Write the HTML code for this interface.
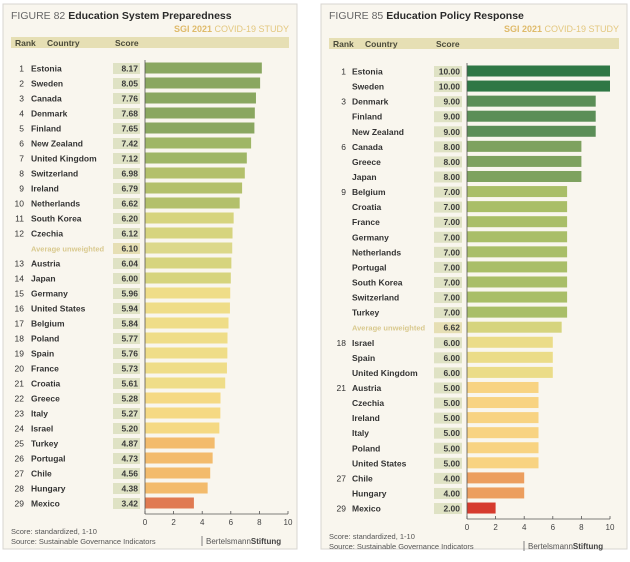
<!DOCTYPE html>
<html><head><meta charset="utf-8">
<style>
html,body{margin:0;padding:0;background:#fff;}
svg{display:block;font-family:"Liberation Sans",sans-serif;}
</style></head>
<body>
<svg id="chart" width="630" height="562" viewBox="0 0 630 562"></svg>
<script>
const leftRanks=["1","2","3","4","5","6","7","8","9","10","11","12","","13","14","15","16","17","18","19","20","21","22","23","24","25","26","27","28","29"];
const leftCountries=["Estonia","Sweden","Canada","Denmark","Finland","New Zealand","United Kingdom","Switzerland","Ireland","Netherlands","South Korea","Czechia","Average unweighted","Austria","Japan","Germany","United States","Belgium","Poland","Spain","France","Croatia","Greece","Italy","Israel","Turkey","Portugal","Chile","Hungary","Mexico"];
const leftScores=[8.17,8.05,7.76,7.68,7.65,7.42,7.12,6.98,6.79,6.62,6.20,6.12,6.10,6.04,6.00,5.96,5.94,5.84,5.77,5.76,5.73,5.61,5.28,5.27,5.20,4.87,4.73,4.56,4.38,3.42];
const leftAvg=[0,0,0,0,0,0,0,0,0,0,0,0,1,0,0,0,0,0,0,0,0,0,0,0,0,0,0,0,0,0];

const rightRanks=["1","","3","","","6","","","9","","","","","","","","","","18","","","21","","","","","","27","","29"];
const rightCountries=["Estonia","Sweden","Denmark","Finland","New Zealand","Canada","Greece","Japan","Belgium","Croatia","France","Germany","Netherlands","Portugal","South Korea","Switzerland","Turkey","Average unweighted","Israel","Spain","United Kingdom","Austria","Czechia","Ireland","Italy","Poland","United States","Chile","Hungary","Mexico"];
const rightScores=[10,10,9,9,9,8,8,8,7,7,7,7,7,7,7,7,7,6.62,6,6,6,5,5,5,5,5,5,4,4,2];
const rightAvg=[0,0,0,0,0,0,0,0,0,0,0,0,0,0,0,0,0,1,0,0,0,0,0,0,0,0,0,0,0,0];

const tickLabels=["0","2","4","6","8","10"];
const tickValues=[0,2,4,6,8,10];

const NS="http://www.w3.org/2000/svg";
const svg=document.getElementById('chart');
function mk(tag,attrs,parent){const e=document.createElementNS(NS,tag);for(const k in attrs)e.setAttribute(k,attrs[k]);(parent||svg).appendChild(e);return e;}

function colorLeft(v,avg){
  if(avg) return "#dcd88a";
  if(v>=7.5) return "#8aa760";
  if(v>=7) return "#9fb666";
  if(v>=6.5) return "#b3c06b";
  if(v>=6) return "#d6d47e";
  if(v>=5.5) return "#efdd88";
  if(v>=5) return "#f5d983";
  if(v>=4) return "#f3bb6c";
  return "#e07a52";
}
function colorRight(v,avg){
  if(avg) return "#d6d47e";
  if(v>=10) return "#2f7745";
  if(v>=9) return "#5b8e57";
  if(v>=8) return "#7ea25f";
  if(v>=7) return "#a9be68";
  if(v>=6) return "#ebdc88";
  if(v>=5) return "#f8d382";
  if(v>=4) return "#ec9e5e";
  return "#d63b2e";
}

function panel(cfg){
  const g=mk('g',{});
  
  
  const bg=mk('rect',{x:cfg.px,y:cfg.py,width:cfg.pw,height:cfg.ph,fill:"#f9f6ee",stroke:"#d8d6d0","stroke-width":1},g);
  
  
  const t=mk('text',{x:cfg.px+8,y:cfg.py+15,"font-size":10.5,fill:"#444"},g);
  
  
  t.innerHTML='<tspan fill="#666">'+cfg.fig+'</tspan> <tspan font-weight="bold" fill="#2a2a2a">'+cfg.title+'</tspan>';
  const s=mk('text',{x:cfg.px+cfg.pw-8,y:cfg.py+28,"font-size":9,"text-anchor":"end",fill:"#e3c77e"},g);
  
  
  s.innerHTML='<tspan font-weight="bold" fill="#dfba6a">SGI 2021</tspan> COVID-19 STUDY';
  const hb=mk('rect',{x:cfg.px+8,y:cfg.hy,width:cfg.pw-16,height:11,fill:"#e6dfb4"},g);
  
  
  [["Rank",cfg.px+12],["Country",cfg.px+44],["Score",cfg.sx+2]].forEach(h=>{
    const e=mk('text',{x:h[1],y:cfg.hy+9,"font-size":8.5,"font-weight":"bold",fill:"#4a4a3a"},g);
    
    
    e.textContent=h[0];
  });
  const xs=v=>cfg.x0+(cfg.x1-cfg.x0)*v/10;
  const ys=i=>cfg.y0+cfg.dy*i;
  cfg.scores.forEach((v,i)=>{
    const y=ys(i);
    const avg=cfg.avg[i];
    if(cfg.ranks[i]){
      const r=mk('text',{x:cfg.rx,y:y+3.5,"font-size":8.5,"text-anchor":"end",fill:"#333"},g);
      
      
      r.textContent=cfg.ranks[i];
    }
    const c=mk('text',{x:cfg.cx,y:y+3.5,"font-size":avg?7.5:8.5,"font-weight":"bold",fill:avg?"#d9c98e":"#333"},g);
    
    
    c.textContent=cfg.countries[i];
    const sb=mk('rect',{x:cfg.sx,y:y-5,width:cfg.sw,height:11,fill:avg?"#e6dfb4":"#dfe2c4"},g);
    
    
    const st=mk('text',{x:cfg.sx+cfg.sw-2,y:y+3.5,"font-size":8.5,"font-weight":"bold","text-anchor":"end",fill:"#3a3a3a"},g);
    
    
    st.textContent=v.toFixed(2);
    const b=mk('rect',{x:xs(0),y:y-5.5,width:xs(v)-xs(0),height:11,fill:cfg.color(v,avg)},g);
    
    
  });
  const ay=ys(cfg.scores.length-1)+11;
  const vl=mk('line',{x1:xs(0),y1:ys(0)-8,x2:xs(0),y2:ay,stroke:"#555","stroke-width":0.8},g);
  
  
  const al=mk('line',{x1:xs(0),y1:ay,x2:xs(10),y2:ay,stroke:"#555","stroke-width":0.8},g);
  
  
  tickValues.forEach((v,k)=>{
    const tk=mk('line',{x1:xs(v),y1:ay-3,x2:xs(v),y2:ay,stroke:"#555","stroke-width":0.8},g);
    
    
    const tl=mk('text',{x:xs(v),y:ay+11,"font-size":8,"text-anchor":"middle",fill:"#444"},g);
    
    
    tl.textContent=tickLabels[k];
  });
  const f1=mk('text',{x:cfg.px+8,y:ay+20,"font-size":7.5,fill:"#555"},g);
  
  
  f1.textContent="Score:   standardized, 1-10";
  const f2=mk('text',{x:cfg.px+8,y:ay+30,"font-size":7.5,fill:"#555"},g);
  
  
  f2.textContent="Source:  Sustainable Governance Indicators";
  const bl=mk('line',{x1:cfg.logoX-4,y1:ay+22,x2:cfg.logoX-4,y2:ay+32,stroke:"#666","stroke-width":0.8},g);
  
  
  const lg=mk('text',{x:cfg.logoX,y:ay+30,"font-size":8,fill:"#555"},g);
  
  
  lg.innerHTML='Bertelsmann<tspan font-weight="bold" fill="#444">Stiftung</tspan>';
}

panel({name:'education-system-preparedness',px:3,py:4,pw:294,ph:545,fig:'FIGURE 82',title:'Education System Preparedness',
  hy:37,rx:24,cx:31,sx:113,sw:27,x0:145,x1:288,y0:68,dy:15.0,
  ranks:leftRanks,countries:leftCountries,scores:leftScores,avg:leftAvg,color:colorLeft,logoX:206});
panel({name:'education-policy-response',px:321,py:4,pw:306,ph:545,fig:'FIGURE 85',title:'Education Policy Response',
  hy:38,rx:346,cx:352,sx:434,sw:28,x0:467,x1:610,y0:71,dy:15.07,
  ranks:rightRanks,countries:rightCountries,scores:rightScores,avg:rightAvg,color:colorRight,logoX:528});
</script>
</body></html>
